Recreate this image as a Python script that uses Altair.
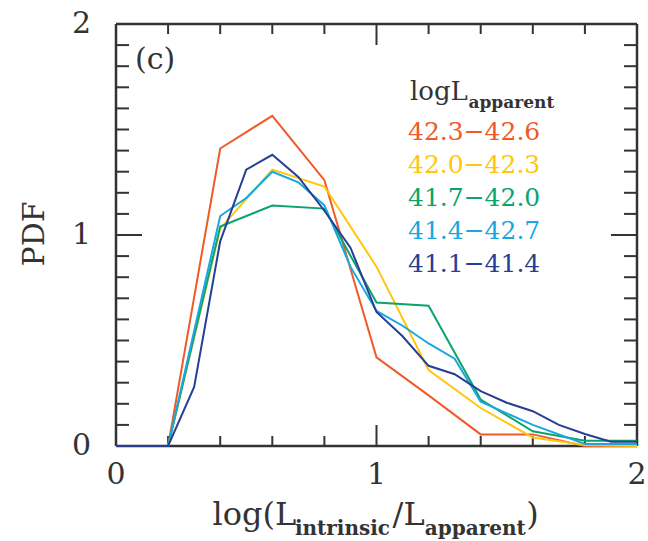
import altair as alt
import pandas as pd

# ---------------- data ----------------
series_labels = ["42.3−42.6", "42.0−42.3", "41.7−42.0", "41.4−42.7", "41.1−41.4"]
series_colors = ["#F05A28", "#FFC60B", "#0BA46A", "#1AA7E0", "#263F95"]

red_x = [0.0, 0.2, 0.4, 0.6, 0.8, 1.0, 1.2, 1.4, 1.6, 1.8, 2.0]
red_y = [0.0, 0.0, 1.41, 1.565, 1.26, 0.42, 0.24, 0.055, 0.055, 0.0, 0.0]

yellow_x = [0.0, 0.2, 0.4, 0.6, 0.8, 1.0, 1.2, 1.4, 1.6, 1.8, 2.0]
yellow_y = [0.0, 0.0, 1.03, 1.31, 1.23, 0.85, 0.36, 0.18, 0.04, 0.005, 0.0]

green_x = [0.0, 0.2, 0.4, 0.6, 0.8, 1.0, 1.2, 1.4, 1.6, 1.8, 2.0]
green_y = [0.0, 0.0, 1.04, 1.14, 1.125, 0.68, 0.665, 0.22, 0.07, 0.025, 0.025]

lblue_x = [0.0, 0.2, 0.4, 0.5, 0.6, 0.7, 0.8, 0.9, 1.0, 1.1, 1.2, 1.3, 1.4, 1.6, 1.8, 2.0]
lblue_y = [0.0, 0.0, 1.09, 1.175, 1.30, 1.25, 1.14, 0.85, 0.64, 0.57, 0.486, 0.414, 0.21, 0.10, 0.01, 0.01]

dblue_x = [0.0, 0.2, 0.3, 0.4, 0.5, 0.6, 0.7, 0.8, 0.9, 1.0, 1.1, 1.2, 1.3, 1.4, 1.5, 1.6, 1.7, 1.8, 1.9, 2.0]
dblue_y = [0.0, 0.0, 0.28, 0.97, 1.31, 1.38, 1.275, 1.115, 0.94, 0.635, 0.52, 0.38, 0.34, 0.26, 0.205, 0.165, 0.10, 0.057, 0.02, 0.02]

series_x = [red_x, yellow_x, green_x, lblue_x, dblue_x]
series_y = [red_y, yellow_y, green_y, lblue_y, dblue_y]

x_label_values = [0, 1, 2]
y_label_values = [0, 1, 2]
x_minor_ticks = [0.2, 0.4, 0.6, 0.8, 1.2, 1.4, 1.6, 1.8]
x_major_ticks = [1.0]
y_minor_ticks = [0.1, 0.2, 0.3, 0.4, 0.5, 0.6, 0.7, 0.8, 0.9,
                 1.1, 1.2, 1.3, 1.4, 1.5, 1.6, 1.7, 1.8, 1.9]
y_major_ticks = [1.0]

# ---------------- styling / layout ----------------
W, H = 521, 422
FONT = "DejaVu Serif"
INK = "#333333"

xs = alt.Scale(domain=[0, 2], nice=False, zero=False)
ys = alt.Scale(domain=[0, 2], nice=False, zero=False)

# approximate advance widths (em) of DejaVu Serif, used to chain subscript pieces
REG = {'l': 0.320, 'o': 0.602, 'g': 0.640, '(': 0.390, ')': 0.390, 'L': 0.637, '/': 0.337}
BOLD = {'i': 0.421, 'n': 0.760, 't': 0.478, 'r': 0.590, 's': 0.595, 'c': 0.643,
        'a': 0.675, 'p': 0.716, 'e': 0.678}


def tw(s, size, bold=False):
    tab = BOLD if bold else REG
    f = 0.95 if bold else 0.97
    return sum(tab.get(ch, 0.6) for ch in s) * size * f


def one():
    return pd.DataFrame({"a": [0]})


def text_layer(txt, x, y, size, color=INK, align="left", baseline="alphabetic",
               weight="normal", angle=0):
    kw = dict(text=txt, font=FONT, fontSize=size, color=color, align=align,
              baseline=baseline, fontWeight=weight)
    if angle:
        kw["angle"] = angle
    return alt.Chart(one()).mark_text(**kw).encode(x=alt.value(x), y=alt.value(y))


layers = []

# frame
FW = 2.5
layers += [
    alt.Chart(one()).mark_rule(color=INK, strokeWidth=FW).encode(
        x=alt.value(0), x2=alt.value(W), y=alt.value(H)),
    alt.Chart(one()).mark_rule(color=INK, strokeWidth=FW).encode(
        x=alt.value(0), x2=alt.value(W), y=alt.value(0)),
    alt.Chart(one()).mark_rule(color=INK, strokeWidth=FW).encode(
        y=alt.value(0), y2=alt.value(H), x=alt.value(0)),
    alt.Chart(one()).mark_rule(color=INK, strokeWidth=FW).encode(
        y=alt.value(0), y2=alt.value(H), x=alt.value(W)),
]


# tick marks (inward), drawn through the scales
def xtick(vals, y1, y2):
    return alt.Chart(pd.DataFrame({"v": vals})).mark_rule(color=INK, strokeWidth=2).encode(
        x=alt.X("v:Q", scale=xs, axis=None), y=alt.value(y1), y2=alt.value(y2))


def ytick(vals, x1, x2):
    return alt.Chart(pd.DataFrame({"v": vals})).mark_rule(color=INK, strokeWidth=2).encode(
        y=alt.Y("v:Q", scale=ys, axis=None), x=alt.value(x1), x2=alt.value(x2))


layers += [
    xtick(x_minor_ticks, H, H - 10), xtick(x_major_ticks, H, H - 21),
    xtick(x_minor_ticks, 0, 10), xtick(x_major_ticks, 0, 21),
    ytick(y_minor_ticks, 0, 13), ytick(y_major_ticks, 0, 26),
    ytick(y_minor_ticks, W, W - 13), ytick(y_major_ticks, W, W - 26),
]

# tick labels, placed through the scales
layers.append(alt.Chart(pd.DataFrame({"v": x_label_values})).mark_text(
    font=FONT, fontSize=30, color=INK, align="center", baseline="top").encode(
    x=alt.X("v:Q", scale=xs, axis=None), y=alt.value(H + 14), text=alt.Text("v:Q", format="d")))
layers.append(alt.Chart(pd.DataFrame({"v": y_label_values})).mark_text(
    font=FONT, fontSize=30, color=INK, align="right", baseline="middle").encode(
    y=alt.Y("v:Q", scale=ys, axis=None), x=alt.value(-25), text=alt.Text("v:Q", format="d")))

# data lines
for lab, col, xv, yv in zip(series_labels, series_colors, series_x, series_y):
    df = pd.DataFrame({"x": xv, "y": yv, "s": lab})
    layers.append(alt.Chart(df).mark_line(color=col, strokeWidth=2).encode(
        x=alt.X("x:Q", scale=xs, axis=None), y=alt.Y("y:Q", scale=ys, axis=None)))

# panel tag
layers.append(text_layer("(c)", 19, 36, 30, baseline="middle"))

# legend (text)
lt_x, lt_y = 294, 76
layers.append(text_layer("logL", lt_x, lt_y, 26))
layers.append(text_layer("apparent", lt_x + tw("logL", 26) + 3, lt_y + 8, 17, weight="bold"))
for i, (lab, col) in enumerate(zip(series_labels, series_colors)):
    layers.append(text_layer(lab, 292, 116 + 33 * i, 25, color=col))

# y title
layers.append(text_layer("PDF", -81, 210, 30, align="center", baseline="middle", angle=270))

# x title with subscripts
S, s = 32, 20
pieces = [("log(L", S, False, 2), ("intrinsic", s, True, 1), ("/L", S, False, 2),
          ("apparent", s, True, 1), (")", S, False, 0)]
total = sum(tw(p, sz, b) + g for p, sz, b, g in pieces)
cx = 259.5 - total / 2
for p, sz, b, g in pieces:
    if b:
        layers.append(text_layer(p, cx, 511, sz, weight="bold"))
    else:
        layers.append(text_layer(p, cx, 501, sz))
    cx += tw(p, sz, b) + g

chart = alt.layer(*layers).properties(
    width=W, height=H,
    autosize=alt.AutoSizeParams(type="none"),
    padding={"left": 116, "top": 24, "right": 11, "bottom": 95},
    background="white",
).configure_view(
    strokeWidth=0
)

chart.save("out.html", embed_options={"renderer": "svg", "actions": False})
